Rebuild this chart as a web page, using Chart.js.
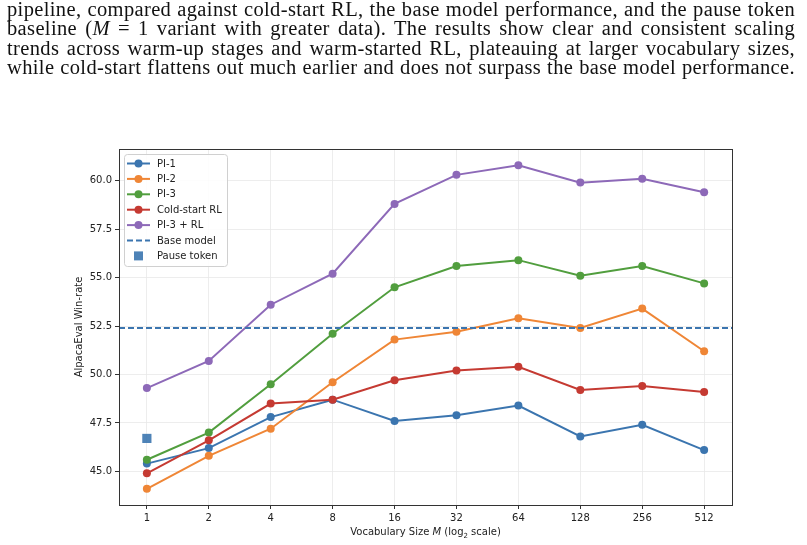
<!DOCTYPE html>
<html>
<head>
<meta charset="utf-8">
<script src="https://cdn.jsdelivr.net/npm/chart.js@4"></script>
<style>
  html, body { margin: 0; padding: 0; background: #fff; }
  #wrap { position: relative; width: 807px; height: 545px; overflow: hidden; }
  #chart { position: absolute; left: 0; top: 0; }
  #caption {
    position: absolute; left: 7px; top: 0px; width: 788px;
    font-family: "Liberation Serif", "DejaVu Serif", serif;
    font-size: 20.5px; line-height: 19.3px; color: #111; letter-spacing: 0.36px;
  }
  #caption div { text-align: justify; text-align-last: justify; white-space: nowrap; }
</style>
</head>
<body>
<div id="wrap">
  <canvas id="chart" width="807" height="545"></canvas>
  <div id="caption">
    <div>pipeline, compared against cold-start RL, the base model performance, and the pause token</div>
    <div>baseline (<i>M</i> = 1 variant with greater data). The results show clear and consistent scaling</div>
    <div>trends across warm-up stages and warm-started RL, plateauing at larger vocabulary sizes,</div>
    <div>while cold-start flattens out much earlier and does not surpass the base model performance.</div>
  </div>
</div>
<script>
// --- data ---
const vocabSizes = [1, 2, 4, 8, 16, 32, 64, 128, 256, 512];
const pi1 = [45.4, 46.2, 47.8, 48.7, 47.6, 47.9, 48.4, 46.8, 47.4, 46.1];
const pi2 = [44.1, 45.8, 47.2, 49.6, 51.8, 52.2, 52.9, 52.4, 53.4, 51.2];
const pi3 = [45.6, 47.0, 49.5, 52.1, 54.5, 55.6, 55.9, 55.1, 55.6, 54.7];
const coldStart = [44.9, 46.6, 48.5, 48.7, 49.7, 50.2, 50.4, 49.2, 49.4, 49.1];
const pi3rl = [49.3, 50.7, 53.6, 55.2, 58.8, 60.3, 60.8, 59.9, 60.1, 59.4];
const baseModel = 52.4;
const pauseToken = 46.7;   // at M = 1
const yTicks = [45.0, 47.5, 50.0, 52.5, 55.0, 57.5, 60.0];

const xMin = -0.45, xMax = 9.45;
const yMin = 43.265, yMax = 61.635;

const colors = {
  blue: '#3b75af',
  orange: '#ef8636',
  green: '#519e3e',
  red: '#c53a32',
  purple: '#8d69b8'
};

function series(vals) {
  return vals.map((v, i) => ({ x: Math.log2(vocabSizes[i]), y: v }));
}

function lineSet(label, vals, color) {
  return {
    label: label,
    data: series(vals),
    borderColor: color,
    backgroundColor: color,
    borderWidth: 2,
    pointRadius: 4,
    pointHoverRadius: 4,
    pointBorderWidth: 0,
    tension: 0,
    legendKind: 'line'
  };
}

const datasets = [
  lineSet('PI-1', pi1, colors.blue),
  lineSet('PI-2', pi2, colors.orange),
  lineSet('PI-3', pi3, colors.green),
  lineSet('Cold-start RL', coldStart, colors.red),
  lineSet('PI-3 + RL', pi3rl, colors.purple),
  {
    label: 'Base model',
    data: [{ x: xMin, y: baseModel }, { x: xMax, y: baseModel }],
    borderColor: colors.blue,
    borderWidth: 2,
    borderDash: [6, 3],
    pointRadius: 0,
    legendKind: 'dash'
  },
  {
    label: 'Pause token',
    data: [{ x: Math.log2(1), y: pauseToken }],
    showLine: false,
    pointStyle: 'rect',
    pointRadius: 6.5,
    pointHoverRadius: 6.5,
    backgroundColor: 'rgba(59,117,175,0.9)',
    borderWidth: 0,
    legendKind: 'square'
  }
];
// later datasets on top (like matplotlib)
datasets.forEach((d, i) => { d.order = datasets.length - i; });

// full frame around the axes
const framePlugin = {
  id: 'frame',
  afterDatasetsDraw(chart) {
    const a = chart.chartArea, ctx = chart.ctx;
    ctx.save();
    ctx.strokeStyle = '#333';
    ctx.lineWidth = 1;
    ctx.strokeRect(Math.round(a.left) + 0.5, Math.round(a.top) + 0.5,
      Math.round(a.right - a.left), Math.round(a.bottom - a.top));
    ctx.restore();
  }
};

// x title with italic M and subscript 2
const xTitlePlugin = {
  id: 'xTitle',
  afterDraw(chart) {
    const ctx = chart.ctx, a = chart.chartArea;
    const parts = [
      { t: 'Vocabulary Size ', f: '10px "DejaVu Sans"', dy: 0 },
      { t: 'M', f: 'italic 10px "DejaVu Sans"', dy: 0 },
      { t: ' (log', f: '10px "DejaVu Sans"', dy: 0 },
      { t: '2', f: '7px "DejaVu Sans"', dy: 2.5 },
      { t: ' scale)', f: '10px "DejaVu Sans"', dy: 0 }
    ];
    ctx.save();
    ctx.fillStyle = '#222';
    ctx.textBaseline = 'alphabetic';
    let total = 0;
    parts.forEach(p => { ctx.font = p.f; p.w = ctx.measureText(p.t).width; total += p.w; });
    let x = (a.left + a.right) / 2 - total / 2;
    const y = 535;
    parts.forEach(p => { ctx.font = p.f; ctx.fillText(p.t, x, y + p.dy); x += p.w; });
    ctx.restore();
  }
};

// legend inside upper-left corner
const legendPlugin = {
  id: 'innerLegend',
  afterDraw(chart) {
    const ctx = chart.ctx, a = chart.chartArea;
    const x0 = a.left + 5, y0 = a.top + 5;
    const rowH = 15.4, w = 103, h = 112;
    ctx.save();
    ctx.beginPath();
    ctx.roundRect(x0 + 0.5, y0 + 0.5, w, h, 3);
    ctx.fillStyle = 'rgba(255,255,255,0.85)';
    ctx.fill();
    ctx.strokeStyle = '#d0d0d0';
    ctx.lineWidth = 1;
    ctx.stroke();
    ctx.font = '10px "DejaVu Sans"';
    ctx.textBaseline = 'middle';
    chart.data.datasets.forEach((d, i) => {
      const cy = y0 + 9.5 + i * rowH;
      const lx = x0 + 3, rx = x0 + 26;
      if (d.legendKind === 'line') {
        ctx.strokeStyle = d.borderColor;
        ctx.lineWidth = 2;
        ctx.setLineDash([]);
        ctx.beginPath(); ctx.moveTo(lx, cy); ctx.lineTo(rx, cy); ctx.stroke();
        ctx.fillStyle = d.borderColor;
        ctx.beginPath(); ctx.arc((lx + rx) / 2, cy, 4, 0, Math.PI * 2); ctx.fill();
      } else if (d.legendKind === 'dash') {
        ctx.strokeStyle = d.borderColor;
        ctx.lineWidth = 2;
        ctx.setLineDash([6, 3]);
        ctx.beginPath(); ctx.moveTo(lx, cy); ctx.lineTo(rx, cy); ctx.stroke();
        ctx.setLineDash([]);
      } else {
        ctx.fillStyle = d.backgroundColor;
        ctx.fillRect((lx + rx) / 2 - 4.5, cy - 4.5, 9, 9);
      }
      ctx.fillStyle = '#222';
      ctx.fillText(d.label, x0 + 33, cy + 0.5);
    });
    ctx.restore();
  }
};

new Chart(document.getElementById('chart'), {
  type: 'line',
  data: { datasets: datasets },
  plugins: [framePlugin, legendPlugin, xTitlePlugin],
  options: {
    responsive: false,
    animation: false,
    layout: { padding: { left: 69, right: 75, top: 149, bottom: 4 } },
    plugins: { legend: { display: false }, tooltip: { enabled: false } },
    scales: {
      x: {
        type: 'linear',
        min: xMin,
        max: xMax,
        afterFit(s) { s.height = 36; },
        afterBuildTicks(s) { s.ticks = vocabSizes.map(m => ({ value: Math.log2(m) })); },
        ticks: {
          callback: (v) => String(Math.round(Math.pow(2, v))),
          color: '#222',
          font: { family: 'DejaVu Sans', size: 10 },
          padding: 3,
          maxRotation: 0
        },
        grid: { color: '#e8e8e8', lineWidth: 0.8, tickColor: '#333', tickLength: 4, tickWidth: 1 },
        border: { color: '#333', width: 1 },
        title: { display: false }
      },
      y: {
        min: yMin,
        max: yMax,
        afterFit(s) { s.width = 50; },
        afterBuildTicks(s) { s.ticks = yTicks.map(v => ({ value: v })); },
        ticks: {
          callback: (v) => v.toFixed(1),
          color: '#222',
          font: { family: 'DejaVu Sans', size: 10 },
          padding: 3
        },
        grid: { color: '#e8e8e8', lineWidth: 0.8, tickColor: '#333', tickLength: 4, tickWidth: 1 },
        border: { color: '#333', width: 1 },
        title: {
          display: true,
          text: 'AlpacaEval Win-rate',
          color: '#222',
          font: { family: 'DejaVu Sans', size: 10 },
          padding: { top: 4, bottom: 4 }
        }
      }
    }
  }
});
</script>
</body>
</html>
